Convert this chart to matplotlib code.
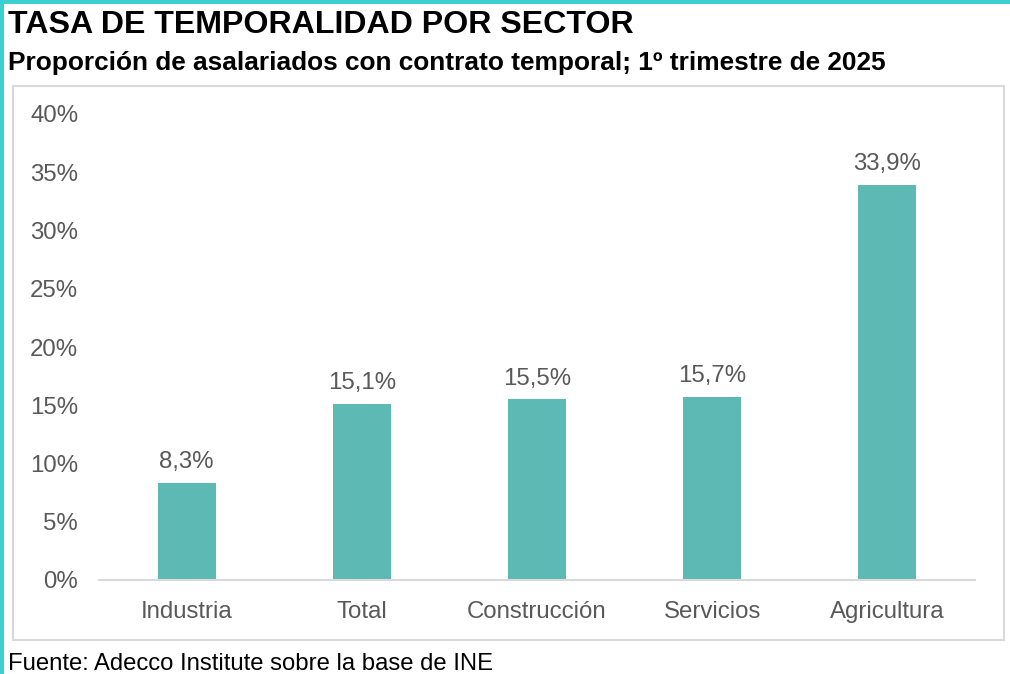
import matplotlib
matplotlib.use('Agg')
import matplotlib.pyplot as plt
from matplotlib.patches import Rectangle

plt.rcParams['font.family'] = ['Liberation Sans', 'DejaVu Sans']

sectores = ['Industria', 'Total', 'Construcción', 'Servicios', 'Agricultura']
tasas = [8.3, 15.1, 15.5, 15.7, 33.9]
yticks = [0, 5, 10, 15, 20, 25, 30, 35, 40]

BAR = '#5DB9B4'
GREY = '#595959'

fig = plt.figure(figsize=(10.10, 6.74), dpi=100)

# teal frame at top and left
fig.add_artist(Rectangle((0, 1 - 4 / 674), 1, 4 / 674, transform=fig.transFigure,
                         color='#3CCFCF', lw=0))
fig.add_artist(Rectangle((0, 0), 4 / 1010, 1, transform=fig.transFigure,
                         color='#3CCFCF', lw=0))
# inner light grey box
fig.add_artist(Rectangle((13 / 1010, 1 - 640 / 674), (1004 - 13) / 1010, (640 - 86) / 674,
                         transform=fig.transFigure, fill=False, ec='#D9D9D9', lw=1.5))

fig.text(8 / 1010, 1 - 25 / 674, 'TASA DE TEMPORALIDAD POR SECTOR', fontsize=23.1,
         fontweight='bold', va='center', ha='left')
fig.text(8 / 1010, 1 - 63 / 674, 'Proporción de asalariados con contrato temporal; 1º trimestre de 2025',
         fontsize=18.9, fontweight='bold', va='center', ha='left')
fig.text(8 / 1010, 1 - 664 / 674, 'Fuente: Adecco Institute sobre la base de INE', fontsize=17.2,
         va='center', ha='left')

ax = fig.add_axes([99 / 1010, 1 - 580 / 674, (975 - 99) / 1010, (580 - 114) / 674])
x = range(len(sectores))
bars = ax.bar(x, tasas, width=0.33, color=BAR, zorder=2)
for xi, v in zip(x, tasas):
    ax.text(xi, v + 0.85, f'{v:.1f}%'.replace('.', ','), ha='center', va='bottom',
            fontsize=17.3, color=GREY)

ax.set_ylim(0, 40)
ax.set_xlim(-0.5, len(sectores) - 0.5)
ax.set_yticks(yticks)
ax.set_yticklabels([f'{t}%' for t in yticks])
ax.set_xticks(list(x))
ax.set_xticklabels(sectores)
ax.tick_params(axis='both', length=0, labelsize=17.3, labelcolor=GREY)
ax.tick_params(axis='y', pad=15)
ax.tick_params(axis='x', pad=15)
for s in ['top', 'right', 'left']:
    ax.spines[s].set_visible(False)
ax.spines['bottom'].set_color('#D9D9D9')
ax.spines['bottom'].set_linewidth(1.5)

plt.savefig('out.png', dpi=100)
plt.close()
